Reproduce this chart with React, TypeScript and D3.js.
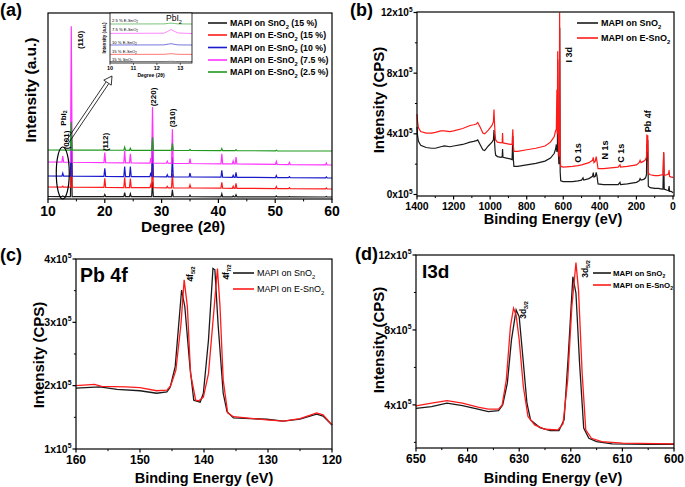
import React from 'react';
import * as d3 from 'd3';

const FONT = '"Liberation Sans", Arial, Helvetica, sans-serif';

// ---------------- (a) XRD ----------------
const xrdLabels = [
  'MAPI on SnO_{2} (15 %)',
  'MAPI on E-SnO_{2} (15 %)',
  'MAPI on E-SnO_{2} (10 %)',
  'MAPI on E-SnO_{2} (7.5 %)',
  'MAPI on E-SnO_{2} (2.5 %)',
];
const xrdColors = ['#1a1a1a', '#ff1a1a', '#1a1acc', '#ff33ff', '#1f9a1f'];
const xrdPeakPos = [12.6, 14.1, 20.0, 23.5, 24.5, 28.1, 28.4, 31.0, 31.9, 35.0, 40.6, 42.6, 43.1, 50.2, 52.5, 59.0];
const xrdBlack = [0.5, 60, 2, 4, 3, 0, 15, 0, 7, 1.5, 3, 1, 2, 1, 0.5, 0.5];
const xrdRed = [1, 62, 9, 10, 9, 3, 32, 1.5, 14, 3, 6, 2, 5, 2, 1, 1];
const xrdBlue = [3, 45, 8, 10, 10, 4, 40, 2, 20, 4, 7, 2, 5, 2, 1, 1];
const xrdPink = [6, 136, 10, 12, 9, 5, 56, 2, 34, 5, 10, 3, 7, 3, 2, 2];
const xrdGreen = [0, 28, 1, 3, 2, 0, 13, 0, 7, 1, 2, 0, 1, 0.5, 0, 0];
const xrdBaseStart = [2.5, 12, 23, 37, 49];
const xrdBaseEnd = [2, 10, 21, 34, 48];
const xrdTicks = [10, 20, 30, 40, 50, 60];
const xrdMinor = [15, 25, 35, 45, 55];
const xrdAnnot = [
  { t: 'PbI_{2}', x: 12.6, y: 81 },
  { t: '(001)', x: 13.1, y: 59 },
  { t: '(110)', x: 15.7, y: 159 },
  { t: '(112)', x: 20.0, y: 57 },
  { t: '(220)', x: 28.4, y: 102 },
  { t: '(310)', x: 31.9, y: 81 },
];

// inset
const insetTicks = [10, 11, 12, 13];
const insetLabels = ['2.5 % E-SnO_{2}', '7.5 % E-SnO_{2}', '10 % E-SnO_{2}', '15 % E-SnO_{2}', '15 % SnO_{2}'];
const insetLabelY = [42.5, 33.5, 21, 11.5, 3.5];
const insetGreen = [[10, 39], [12.3, 39.1], [12.5, 39.6], [12.6, 39.9], [12.75, 39.5], [12.9, 39.1], [13.5, 39]];
const insetPink = [[10, 29.6], [12.3, 29.8], [12.45, 31.5], [12.6, 33.5], [12.72, 32], [12.9, 30], [13.5, 29.5]];
const insetBlue = [[10, 18], [12.3, 18.1], [12.5, 18.9], [12.6, 19.3], [12.75, 18.7], [12.9, 18.1], [13.5, 18]];
const insetRed = [[10, 8.6], [12.3, 8.7], [12.5, 9.1], [12.6, 9.3], [12.75, 9.0], [12.9, 8.7], [13.5, 8.6]];
const insetBlack = [[10, 1.4], [12.4, 1.5], [12.6, 1.7], [12.8, 1.5], [13.5, 1.4]];

// ---------------- (b) XPS survey ----------------
const surveyLabels = ['MAPI on SnO_{2}', 'MAPI on E-SnO_{2}'];
const surveyBlack = [
  [1400, 4.45], [1397, 3.9], [1392, 3.5], [1380, 3.25], [1350, 3.1], [1320, 3.05], [1300, 3.05], [1270, 3.15], [1250, 3.2], [1220, 3.15], [1200, 3.2],
  [1150, 3.3], [1110, 3.45], [1090, 3.5], [1075, 3.55], [1068, 3.6], [1055, 3.3], [1040, 2.95], [1030, 2.9], [1010, 3.2], [990, 3.45], [982, 3.6],
  [979, 4.25], [976, 3.5], [973, 2.9], [970, 2.6], [960, 2.5], [940, 2.45], [934, 2.5], [932, 3.0], [930, 2.45], [910, 2.4], [890, 2.35], [880, 2.3],
  [876, 3.85], [873, 2.3], [870, 1.85], [850, 1.85], [800, 1.95], [750, 2.05], [700, 2.2], [670, 2.4], [650, 2.7], [642, 3.0], [638, 3.3], [635, 2.8],
  [632, 3.2], [630.5, 8.9], [628, 3.0], [624, 2.0], [621, 3.0], [619.5, 11.0], [617, 1.5], [614, 0.9], [600, 0.85], [550, 0.85], [520, 0.9], [500, 0.95],
  [492, 1.1], [488, 0.95], [460, 1.05], [440, 1.2], [436, 1.45], [432, 1.15], [425, 1.2], [420, 1.45], [416, 1.25], [410, 0.7], [380, 0.65], [340, 0.65],
  [300, 0.65], [290, 0.8], [287, 0.65], [250, 0.7], [200, 0.8], [185, 0.9], [180, 1.05], [175, 0.95], [160, 1.0], [150, 1.1], [145, 1.3], [143, 3.3],
  [140, 2.2], [138, 3.6], [135, 0.55], [125, 0.45], [100, 0.4], [80, 0.4], [60, 0.35], [55, 0.35], [51, 2.75], [48, 0.35], [35, 0.3], [25, 0.25],
  [21, 0.55], [19, 0.2], [10, 0.2], [3, 0.15], [0, 0.1],
];
const surveyRed = [
  [1400, 5.3], [1397, 4.8], [1392, 4.4], [1380, 4.15], [1350, 4.05], [1320, 4.05], [1300, 4.1], [1270, 4.2], [1250, 4.2], [1220, 4.15], [1200, 4.2],
  [1150, 4.35], [1110, 4.55], [1090, 4.6], [1075, 4.65], [1068, 4.75], [1055, 4.45], [1040, 4.05], [1030, 4.0], [1010, 4.25], [990, 4.55], [982, 4.8],
  [979, 5.6], [976, 4.7], [973, 4.0], [970, 3.6], [960, 3.45], [940, 3.4], [934, 3.45], [932, 4.05], [930, 3.4], [910, 3.35], [890, 3.3], [880, 3.3],
  [876, 4.3], [873, 3.2], [870, 2.85], [850, 2.85], [800, 2.95], [750, 3.05], [700, 3.2], [670, 3.45], [650, 3.8], [642, 4.2], [638, 4.3], [635, 6.9],
  [633, 4.0], [630.5, 9.45], [628, 4.0], [624, 2.5], [622, 3.5], [620, 12.0], [617, 2.3], [614, 1.85], [600, 1.8], [550, 1.85], [520, 1.9], [500, 1.95],
  [460, 2.1], [440, 2.25], [436, 2.45], [432, 2.1], [425, 2.2], [420, 2.5], [416, 2.2], [410, 1.7], [380, 1.7], [340, 1.75], [300, 1.8], [290, 1.95],
  [287, 1.8], [250, 1.85], [200, 1.95], [185, 2.1], [180, 2.25], [175, 2.1], [160, 2.2], [150, 2.3], [145, 2.5], [143, 3.95], [140, 2.8], [138, 3.9],
  [135, 1.4], [125, 1.3], [100, 1.25], [80, 1.25], [60, 1.3], [55, 1.3], [51, 2.8], [48, 1.25], [35, 1.3], [25, 1.35], [21, 1.6], [19, 1.2], [10, 1.15],
  [3, 1.15], [0, 1.1],
];
const surveyXTicks = [1400, 1200, 1000, 800, 600, 400, 200, 0];
const surveyXMinor = [1300, 1100, 900, 700, 500, 300, 100];
const surveyYTicks = [0, 4, 8, 12];
const surveyYMinor = [2, 6, 10];
const surveyAnnot = [
  { t: 'I 3d', x: 569, y: 8.7 },
  { t: 'O 1s', x: 520, y: 2.1 },
  { t: 'N 1s', x: 372, y: 2.3 },
  { t: 'C 1s', x: 284, y: 2.1 },
  { t: 'Pb 4f', x: 137, y: 4.1 },
];

// ---------------- (c) Pb 4f ----------------
const pbBlack = [
  [160, 1.96], [156.3, 1.98], [153.6, 1.94], [150, 1.92], [147.4, 1.88], [145.8, 1.9], [145.3, 1.97], [144.5, 2.3], [143.5, 3.51], [143.0, 3.25],
  [142.2, 2.3], [141.6, 1.77], [140.6, 1.74], [140.1, 1.88], [139.3, 2.72], [138.6, 3.85], [138.3, 3.83], [137.8, 2.97], [137.0, 1.88], [136.4, 1.59],
  [135.4, 1.49], [130.2, 1.47], [127.6, 1.44], [125, 1.47], [122.4, 1.55], [121.4, 1.52], [120, 1.38],
];
const pbRed = [
  [160, 2.0], [157.1, 2.02], [156, 1.99], [152.2, 1.98], [150, 1.97], [147.4, 1.92], [145.8, 1.93], [145.2, 2.0], [144.4, 2.24], [143.6, 2.97],
  [143.1, 3.67], [142.6, 3.25], [142.1, 2.19], [141.3, 1.77], [140.8, 1.76], [140.1, 1.82], [139.3, 2.19], [138.4, 3.25], [137.9, 3.85], [137.5, 3.25],
  [137.0, 2.09], [136.3, 1.57], [135.4, 1.51], [130.2, 1.46], [127.6, 1.44], [125, 1.48], [122.4, 1.57], [121.4, 1.54], [120, 1.38],
];
const pbXTicks = [160, 150, 140, 130, 120];
const pbXMinor = [155, 145, 135, 125];
const pbYTicks = [1, 2, 3, 4];
const pbYMinor = [1.5, 2.5, 3.5];

// ---------------- (d) I 3d ----------------
const iBlack = [
  [650, 3.82], [647, 3.91], [644, 4.09], [641, 3.96], [638, 3.77], [636, 3.64], [634, 3.7], [633.2, 4.0], [632.3, 5.16], [631.5, 7.47], [630.6, 9.07],
  [630, 8.7], [629.3, 6.58], [628.5, 4.09], [627.8, 3.2], [626, 2.79], [624, 2.63], [622.3, 2.63], [621.3, 3.2], [620.5, 6.58], [619.6, 10.84],
  [619, 9.96], [618.3, 6.22], [617.5, 2.76], [616.5, 2.22], [615, 2.04], [612, 1.92], [605, 1.9], [600, 1.9],
];
const iRed = [
  [650, 3.95], [647, 4.09], [644, 4.23], [641, 4.09], [638, 3.88], [636, 3.77], [634, 3.77], [633.3, 4.0], [632.5, 5.33], [631.7, 8.18], [631.1, 9.16],
  [630.6, 8.8], [630, 7.47], [629.2, 4.98], [628.3, 3.38], [627, 2.93], [625, 2.7], [622.5, 2.67], [621.5, 3.0], [620.6, 5.33], [619.8, 9.24],
  [619.0, 11.59], [618.5, 10.1], [617.8, 5.69], [617.1, 2.67], [616, 2.22], [614, 2.04], [610, 1.96], [600, 1.92],
];
const iXTicks = [650, 640, 630, 620, 610, 600];
const iXMinor = [645, 635, 625, 615, 605];
const iYTicks = [4, 8, 12];
const iYMinor = [2, 6, 10];

// ---------------- helpers ----------------
type RichProps = {
  text: string; x?: number; y?: number; fs: number; weight?: string | number; anchor?: string;
  transform?: string; fill?: string; baseline?: string;
};
function Rich({ text, x = 0, y = 0, fs, weight = 'bold', anchor = 'start', transform, fill = '#000', baseline }: RichProps) {
  const parts: { t: string; k: string }[] = [];
  const re = /([_^])\{([^}]*)\}/g;
  let last = 0;
  let m: RegExpExecArray | null;
  while ((m = re.exec(text))) {
    if (m.index > last) parts.push({ t: text.slice(last, m.index), k: 'n' });
    parts.push({ t: m[2], k: m[1] === '_' ? 'sub' : 'sup' });
    last = m.index + m[0].length;
  }
  if (last < text.length) parts.push({ t: text.slice(last), k: 'n' });
  let cur = 0;
  const spans = parts.map((p, i) => {
    const target = p.k === 'sub' ? fs * 0.3 : p.k === 'sup' ? -fs * 0.45 : 0;
    const dy = target - cur;
    cur = target;
    return (
      <tspan key={i} dy={dy} fontSize={p.k === 'n' ? fs : fs * 0.65}>
        {p.t}
      </tspan>
    );
  });
  return (
    <text x={x} y={y} fontSize={fs} fontWeight={weight} textAnchor={anchor} transform={transform} fill={fill} dominantBaseline={baseline} style={{ whiteSpace: 'pre' }}>
      {spans}
    </text>
  );
}

function XAxis({ scale, y, major, minor, fs, dy, fmt = (v: number) => String(v), len = 4 }: any) {
  return (
    <g>
      {minor.map((v: number) => (
        <line key={'m' + v} x1={scale(v)} x2={scale(v)} y1={y} y2={y + len * 0.6} stroke="#000" strokeWidth={1} />
      ))}
      {major.map((v: number) => (
        <g key={v}>
          <line x1={scale(v)} x2={scale(v)} y1={y} y2={y + len} stroke="#000" strokeWidth={1.2} />
          <text x={scale(v)} y={y + dy} textAnchor="middle" fontSize={fs} fontWeight="bold">{fmt(v)}</text>
        </g>
      ))}
    </g>
  );
}

function YAxis({ scale, x, major, minor, fs, len = 4 }: any) {
  return (
    <g>
      {minor.map((v: number) => (
        <line key={'m' + v} x1={x} x2={x - len * 0.6} y1={scale(v)} y2={scale(v)} stroke="#000" strokeWidth={1} />
      ))}
      {major.map((v: number) => (
        <g key={v}>
          <line x1={x} x2={x - len} y1={scale(v)} y2={scale(v)} stroke="#000" strokeWidth={1.2} />
          <Rich text={`${v}x10^{5}`} x={x - len - 1} y={scale(v) + fs * 0.35} fs={fs} anchor="end" />
        </g>
      ))}
    </g>
  );
}

function Frame({ x0, x1, y0, y1, w = 1.2 }: any) {
  return <rect x={x0} y={y0} width={x1 - x0} height={y1 - y0} fill="none" stroke="#000" strokeWidth={w} />;
}

function Legend({ items, colors, x0, x1, tx, ys, fs, weight }: any) {
  return (
    <g>
      {items.map((t: string, i: number) => (
        <g key={i}>
          <line x1={x0} x2={x1} y1={ys[i]} y2={ys[i]} stroke={colors[i]} strokeWidth={1.6} />
          <Rich text={t} x={tx} y={ys[i] + fs * 0.35} fs={fs} weight={weight} />
        </g>
      ))}
    </g>
  );
}

function xrdPoints(heights: number[], b0: number, b1: number) {
  const base = (x: number) => b0 + ((b1 - b0) * (x - 10)) / 50;
  const w = 0.15;
  const pts: [number, number][] = [[10, base(10)]];
  xrdPeakPos.forEach((p, i) => {
    if (heights[i] > 0) {
      pts.push([p - w, base(p - w)], [p, base(p) + heights[i]], [p + w, base(p + w)]);
    }
  });
  pts.push([60, base(60)]);
  return pts;
}

export default function App() {
  // ---- (a)
  const ax = d3.scaleLinear().domain([10, 60]).range([48, 332]);
  const ay = d3.scaleLinear().domain([0, 186]).range([199, 13]);
  const aLine = d3.line<[number, number]>().x((d) => ax(d[0])).y((d) => ay(d[1]));
  const xrdAll = [xrdBlack, xrdRed, xrdBlue, xrdPink, xrdGreen];

  const ix = d3.scaleLinear().domain([10, 13.5]).range([110, 192]);
  const iy = d3.scaleLinear().domain([0, 50]).range([63, 13]);
  const iLine = d3.line<number[]>().x((d) => ix(d[0])).y((d) => iy(d[1]));
  const insetAll = [insetGreen, insetPink, insetBlue, insetRed, insetBlack];
  const insetCols = [xrdColors[4], xrdColors[3], xrdColors[2], xrdColors[1], xrdColors[0]];

  // arrow
  const T = [ax(13.3), ay(56)];
  const H = [112, 76];
  const dxA = H[0] - T[0], dyA = H[1] - T[1];
  const L = Math.hypot(dxA, dyA);
  const ux = dxA / L, uy = dyA / L;
  const nx = -uy, ny = ux;
  const hb = [H[0] - ux * 8, H[1] - uy * 8];

  // ---- (b)
  const bx = d3.scaleLinear().domain([1400, 0]).range([417, 673]);
  const by = d3.scaleLinear().domain([0, 12]).range([194.5, 12.5]);
  const bLine = d3.line<number[]>().x((d) => bx(d[0])).y((d) => by(d[1]));

  // ---- (c)
  const cx = d3.scaleLinear().domain([160, 120]).range([76, 332]);
  const cy = d3.scaleLinear().domain([1, 4]).range([449, 259]);
  const cLine = d3.line<number[]>().x((d) => cx(d[0])).y((d) => cy(d[1]));

  // ---- (d)
  const dx = d3.scaleLinear().domain([650, 600]).range([416, 674]);
  const dy = d3.scaleLinear().domain([1.7, 12]).range([448, 255]);
  const dLine = d3.line<number[]>().x((d) => dx(d[0])).y((d) => dy(d[1]));

  const pairCols = ['#1a1a1a', '#ff1a1a'];

  return (
    <svg width={685} height={487} style={{ position: 'absolute', left: 0, top: 0, background: '#fff' }} fontFamily={FONT}>
      <rect x={0} y={0} width={685} height={487} fill="#fff" />

      {/* ===== (a) ===== */}
      <text x={0} y={16} fontSize={18} fontWeight="bold">(a)</text>
      <g>
        {xrdAll.map((h, i) => (
          <path key={i} d={aLine(xrdPoints(h, xrdBaseStart[i], xrdBaseEnd[i])) || ''} fill="none" stroke={xrdColors[i]} strokeWidth={1.2} />
        ))}
      </g>
      <Frame x0={48} x1={332} y0={13} y1={199} />
      <XAxis scale={ax} y={199} major={xrdTicks} minor={xrdMinor} fs={14} dy={17} len={4} />
      <text transform={`translate(36,90) rotate(-90)`} textAnchor="middle" fontSize={15.5} fontWeight="bold">Intensity (a.u.)</text>
      <text x={183} y={232} textAnchor="middle" fontSize={15.5} fontWeight="bold">Degree (2θ)</text>
      {xrdAnnot.map((a, i) => (
        <Rich key={i} text={a.t} fs={8} anchor="middle" baseline="central" transform={`translate(${ax(a.x)},${ay(a.y)}) rotate(-90)`} />
      ))}
      <ellipse cx={ax(12.6)} cy={ay(26)} rx={6.5} ry={26} fill="none" stroke="#000" strokeWidth={1.2} />
      {/* arrow */}
      <g stroke="#000" strokeWidth={0.8} fill="none">
        <line x1={T[0] + nx * 1.6} y1={T[1] + ny * 1.6} x2={hb[0] + nx * 1.6} y2={hb[1] + ny * 1.6} />
        <line x1={T[0] - nx * 1.6} y1={T[1] - ny * 1.6} x2={hb[0] - nx * 1.6} y2={hb[1] - ny * 1.6} />
        <polygon points={`${H[0]},${H[1]} ${hb[0] + nx * 4.5},${hb[1] + ny * 4.5} ${hb[0] - nx * 4.5},${hb[1] - ny * 4.5}`} fill="#fff" />
      </g>
      <Legend items={xrdLabels} colors={xrdColors} x0={208} x1={227} tx={230} ys={[23, 35, 47.5, 60, 72]} fs={8.8} weight="bold" />

      {/* inset */}
      <rect x={110} y={13} width={82} height={50} fill="#fff" />
      {insetAll.map((d, i) => (
        <path key={i} d={iLine(d) || ''} fill="none" stroke={insetCols[i]} strokeWidth={0.7} opacity={0.85} />
      ))}
      <Frame x0={110} x1={192} y0={13} y1={63} w={0.8} />
      {insetTicks.map((v) => (
        <g key={v}>
          <line x1={ix(v)} x2={ix(v)} y1={63} y2={65} stroke="#000" strokeWidth={0.6} />
          <text x={ix(v)} y={70} textAnchor="middle" fontSize={5.5} fontWeight="bold">{v}</text>
        </g>
      ))}
      <text x={151} y={77} textAnchor="middle" fontSize={5} fontWeight="bold">Degree (2θ)</text>
      <text transform="translate(106,38) rotate(-90)" textAnchor="middle" fontSize={4.6} fontWeight="bold">Intensity (a.u.)</text>
      {insetLabels.map((t, i) => (
        <Rich key={i} text={t} x={112} y={iy(insetLabelY[i]) + 1.5} fs={4.2} weight="normal" />
      ))}
      <Rich text="PbI_{2}" x={166} y={21} fs={8.5} weight="normal" />

      {/* ===== (b) ===== */}
      <text x={350} y={16} fontSize={18} fontWeight="bold">(b)</text>
      <path d={bLine(surveyBlack) || ''} fill="none" stroke={pairCols[0]} strokeWidth={1.2} />
      <path d={bLine(surveyRed) || ''} fill="none" stroke={pairCols[1]} strokeWidth={1.2} />
      <Frame x0={417} x1={674} y0={12} y1={196} />
      <XAxis scale={bx} y={196} major={surveyXTicks} minor={surveyXMinor} fs={10.5} dy={14} len={3.5} />
      <YAxis scale={by} x={417} major={surveyYTicks} minor={surveyYMinor} fs={10} len={3.5} />
      <text transform="translate(384,100) rotate(-90)" textAnchor="middle" fontSize={15} fontWeight="bold">Intensity (CPS)</text>
      <text x={553} y={224} textAnchor="middle" fontSize={14.5} fontWeight="bold">Binding Energy (eV)</text>
      {surveyAnnot.map((a, i) => (
        <Rich key={i} text={a.t} fs={9} anchor="start" baseline="central" transform={`translate(${bx(a.x)},${by(a.y)}) rotate(-90)`} />
      ))}
      <Legend items={surveyLabels} colors={pairCols} x0={577} x1={598} tx={601} ys={[23, 38]} fs={9} weight="bold" />

      {/* ===== (c) ===== */}
      <text x={0} y={261} fontSize={18} fontWeight="bold">(c)</text>
      <path d={cLine(pbBlack) || ''} fill="none" stroke={pairCols[0]} strokeWidth={1.3} />
      <path d={cLine(pbRed) || ''} fill="none" stroke={pairCols[1]} strokeWidth={1.3} />
      <Frame x0={76} x1={332} y0={259} y1={449} />
      <XAxis scale={cx} y={449} major={pbXTicks} minor={pbXMinor} fs={12} dy={15} len={3.5} />
      <YAxis scale={cy} x={76} major={pbYTicks} minor={pbYMinor} fs={10.5} len={3.5} />
      <text transform="translate(44,355) rotate(-90)" textAnchor="middle" fontSize={15} fontWeight="bold">Intensity (CPS)</text>
      <text x={204} y={483} textAnchor="middle" fontSize={14.5} fontWeight="bold">Binding Energy (eV)</text>
      <text x={80} y={282} fontSize={19.5} fontWeight="bold">Pb 4f</text>
      <Rich text="4f_{5/2}" fs={8.5} anchor="middle" baseline="central" transform={`translate(190,274) rotate(-90)`} />
      <Rich text="4f_{7/2}" fs={8.5} anchor="middle" baseline="central" transform={`translate(226,272) rotate(-90)`} />
      <Legend items={surveyLabels} colors={pairCols} x0={233} x1={254} tx={257} ys={[273, 289]} fs={9} weight="normal" />

      {/* ===== (d) ===== */}
      <text x={355} y={260} fontSize={18} fontWeight="bold">(d)</text>
      <path d={dLine(iBlack) || ''} fill="none" stroke={pairCols[0]} strokeWidth={1.3} />
      <path d={dLine(iRed) || ''} fill="none" stroke={pairCols[1]} strokeWidth={1.3} />
      <Frame x0={416} x1={674} y0={255} y1={448} />
      <XAxis scale={dx} y={448} major={iXTicks} minor={iXMinor} fs={12} dy={15} len={3.5} />
      <YAxis scale={dy} x={416} major={iYTicks} minor={iYMinor} fs={10.5} len={3.5} />
      <text transform="translate(384,340) rotate(-90)" textAnchor="middle" fontSize={15} fontWeight="bold">Intensity (CPS)</text>
      <text x={553} y={483} textAnchor="middle" fontSize={14.5} fontWeight="bold">Binding Energy (eV)</text>
      <text x={422} y={278} fontSize={19} fontWeight="bold">I3d</text>
      <Rich text="3d_{3/2}" fs={8.5} anchor="middle" baseline="central" transform={`translate(523,310) rotate(-90)`} />
      <Rich text="3d_{5/2}" fs={8.5} anchor="middle" baseline="central" transform={`translate(585,269) rotate(-90)`} />
      <Legend items={surveyLabels} colors={pairCols} x0={593} x1={611} tx={613} ys={[273, 285]} fs={7.8} weight="bold" />
    </svg>
  );
}
